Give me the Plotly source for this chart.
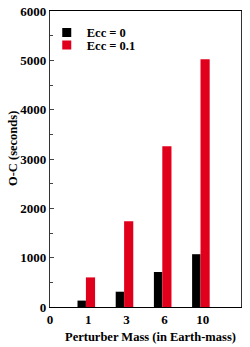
import plotly.graph_objects as go

masses = ["1", "3", "6", "10"]
tick_labels = ["0", "1", "3", "6", "10"]
ecc0 = [130, 310, 710, 1070]
ecc01 = [600, 1740, 3260, 5020]
series_names = ["Ecc = 0", "Ecc = 0.1"]
series_colors = ["black", "#e0001b"]
y_ticks = [0, 1000, 2000, 3000, 4000, 5000, 6000]

font_family = "Liberation Serif, Times New Roman, serif"

fig = go.Figure()
fig.add_trace(go.Bar(x=masses, y=ecc0, name=series_names[0], marker_color=series_colors[0],
                     marker_line_width=0, width=0.22, offset=-0.28, showlegend=False))
fig.add_trace(go.Bar(x=masses, y=ecc01, name=series_names[1], marker_color=series_colors[1],
                     marker_line_width=0, width=0.24, offset=-0.06, showlegend=False))
# legend entries (square swatches)
for i, (nm, col) in enumerate(zip(series_names, series_colors)):
    fig.add_trace(go.Scatter(x=[None], y=[None], mode="markers", name="<b>%s</b>" % nm,
                             marker=dict(symbol="square", size=9, color=col),
                             legend="legend" if i == 0 else "legend2"))

leg_common = dict(xanchor="left", yanchor="middle", bgcolor="rgba(0,0,0,0)",
                  font=dict(size=12.5), itemwidth=30)
fig.update_layout(
    width=250, height=347,
    margin=dict(l=50, r=9, t=11, b=40, autoexpand=False),
    paper_bgcolor="white", plot_bgcolor="white",
    font=dict(family=font_family, size=13, color="black"),
    barmode="overlay",
    legend=dict(x=-0.017, y=0.926, **leg_common),
    legend2=dict(x=-0.017, y=0.884, **leg_common),
    xaxis=dict(type="category", categoryorder="array", categoryarray=tick_labels,
               tickvals=tick_labels, ticktext=["<b>%s</b>" % t for t in tick_labels],
               range=[0, 5], showgrid=False, ticks="", showline=True, linecolor="black",
               linewidth=1, mirror=True, zeroline=False),
    yaxis=dict(range=[0, 6000], tickvals=y_ticks,
               ticktext=["<b>%d</b>" % v for v in y_ticks],
               ticks="inside", ticklen=4, tickcolor="#444", showgrid=False,
               showline=True, linecolor="#333", linewidth=1.2, mirror=True, zeroline=False,
               minor=dict(dtick=500, ticks="inside", ticklen=3, tickcolor="#444")),
    annotations=[
        dict(text="<b>Perturber Mass (in Earth-mass)</b>", xref="paper", yref="paper",
             x=0.528, y=-0.1, xanchor="center", yanchor="middle", showarrow=False,
             font=dict(size=12.5)),
        dict(text="<b>O-C (seconds)</b>", xref="paper", yref="paper", textangle=-90,
             x=-0.19, y=0.536, xanchor="center", yanchor="middle", showarrow=False,
             font=dict(size=12.5)),
    ],
)

fig.write_html("out.html", config={"displayModeBar": False},
               post_script="document.body.style.margin='0';")
